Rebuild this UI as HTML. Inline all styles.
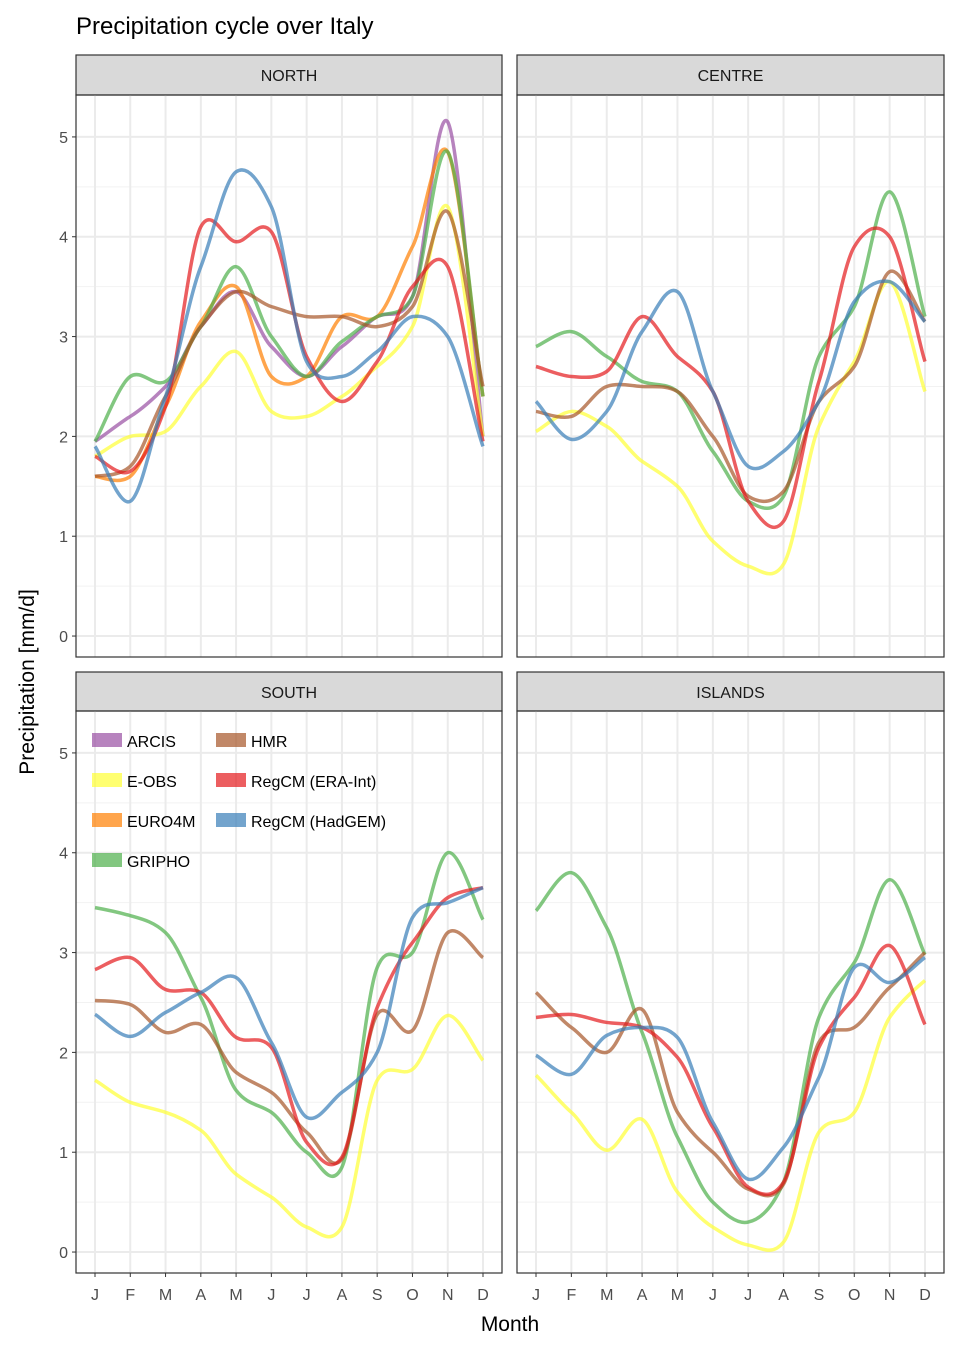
<!DOCTYPE html>
<html><head><meta charset="utf-8"><style>
body{margin:0;background:#fff}
svg text{font-family:"Liberation Sans",Arial,sans-serif}
</style></head><body>
<svg id="chart" width="958" height="1350" xmlns="http://www.w3.org/2000/svg">
<text x="76" y="34" font-size="24" fill="#000">Precipitation cycle over Italy</text>
<text x="510" y="1331" font-size="21" text-anchor="middle">Month</text>
<text transform="translate(34,682) rotate(-90)" font-size="21" text-anchor="middle">Precipitation [mm/d]</text>
</svg>
<script>
const months=["J","F","M","A","M","J","J","A","S","O","N","D"];
const yTicks=[0,1,2,3,4,5];
const seriesNames=["ARCIS","E-OBS","EURO4M","GRIPHO","HMR","RegCM (ERA-Int)","RegCM (HadGEM)"];
const seriesColors=["#984EA3","#FFFF33","#FF7F00","#4DAF4A","#A65628","#E41A1C","#377EB8"];
const regions=["NORTH","CENTRE","SOUTH","ISLANDS"];
const northARCIS=[1.95,2.2,2.5,3.1,3.45,2.9,2.6,2.9,3.2,3.4,5.15,2.0];
const northEOBS=[1.8,2.0,2.05,2.5,2.85,2.25,2.2,2.4,2.7,3.1,4.3,2.0];
const northEURO4M=[1.6,1.6,2.3,3.15,3.5,2.6,2.6,3.2,3.2,3.9,4.85,2.4];
const northGRIPHO=[1.95,2.6,2.55,3.1,3.7,3.0,2.6,2.95,3.2,3.4,4.85,2.4];
const northHMR=[1.6,1.7,2.4,3.1,3.45,3.3,3.2,3.2,3.1,3.3,4.25,2.5];
const northERA=[1.8,1.65,2.3,4.1,3.95,4.05,2.8,2.35,2.75,3.5,3.7,1.95];
const northHad=[1.9,1.35,2.4,3.7,4.65,4.3,2.75,2.6,2.85,3.2,3.0,1.9];
const centreEOBS=[2.05,2.25,2.1,1.75,1.5,0.95,0.7,0.72,2.1,2.75,3.55,2.45];
const centreGRIPHO=[2.9,3.05,2.8,2.55,2.45,1.85,1.35,1.4,2.8,3.3,4.45,3.2];
const centreHMR=[2.25,2.2,2.5,2.5,2.45,2.0,1.4,1.45,2.35,2.7,3.65,3.15];
const centreERA=[2.7,2.6,2.65,3.2,2.8,2.45,1.35,1.15,2.55,3.9,4.0,2.75];
const centreHad=[2.35,1.97,2.25,3.05,3.45,2.45,1.7,1.85,2.35,3.35,3.55,3.15];
const southEOBS=[1.72,1.5,1.4,1.22,0.78,0.55,0.25,0.25,1.72,1.83,2.37,1.92];
const southGRIPHO=[3.45,3.37,3.2,2.55,1.62,1.4,1.0,0.85,2.85,3.0,4.0,3.33];
const southHMR=[2.52,2.48,2.2,2.28,1.8,1.6,1.2,0.93,2.38,2.22,3.2,2.95];
const southERA=[2.83,2.95,2.63,2.6,2.15,2.05,1.1,0.95,2.45,3.1,3.55,3.65];
const southHad=[2.38,2.16,2.4,2.6,2.75,2.1,1.35,1.6,2.0,3.35,3.5,3.65];
const islandsEOBS=[1.77,1.4,1.02,1.33,0.6,0.25,0.07,0.1,1.2,1.4,2.35,2.72];
const islandsGRIPHO=[3.42,3.8,3.25,2.2,1.15,0.5,0.3,0.7,2.35,2.9,3.73,2.98];
const islandsHMR=[2.6,2.25,2.0,2.43,1.4,1.0,0.63,0.68,2.1,2.25,2.65,3.0];
const islandsERA=[2.35,2.38,2.3,2.25,1.95,1.25,0.65,0.7,2.05,2.55,3.07,2.28];
const islandsHad=[1.97,1.78,2.17,2.25,2.15,1.3,0.73,1.05,1.75,2.85,2.7,2.95];

const NS="http://www.w3.org/2000/svg";
const svg=document.getElementById("chart");
function mk(tag,attrs,parent){const e=document.createElementNS(NS,tag);for(const k in attrs)e.setAttribute(k,attrs[k]);(parent||svg).appendChild(e);return e;}

const panels=[
 {x0:76,x1:502,sy0:55,y0:95,y1:657,data:[northARCIS,northEOBS,northEURO4M,northGRIPHO,northHMR,northERA,northHad],idx:[0,1,2,3,4,5,6],yl:true,xl:false},
 {x0:517,x1:944,sy0:55,y0:95,y1:657,data:[centreEOBS,centreGRIPHO,centreHMR,centreERA,centreHad],idx:[1,3,4,5,6],yl:false,xl:false},
 {x0:76,x1:502,sy0:672,y0:711,y1:1273,data:[southEOBS,southGRIPHO,southHMR,southERA,southHad],idx:[1,3,4,5,6],yl:true,xl:true},
 {x0:517,x1:944,sy0:672,y0:711,y1:1273,data:[islandsEOBS,islandsGRIPHO,islandsHMR,islandsERA,islandsHad],idx:[1,3,4,5,6],yl:false,xl:true}
];
const yMin=-0.21,yMax=5.42;
const T=7.5;
function smooth(pts){let d="M"+pts[0][0]+","+pts[0][1];for(let i=0;i<pts.length-1;i++){const p0=pts[Math.max(i-1,0)],p1=pts[i],p2=pts[i+1],p3=pts[Math.min(i+2,pts.length-1)];d+=" C"+(p1[0]+(p2[0]-p0[0])/6)+","+(p1[1]+(p2[1]-p0[1])/T)+" "+(p2[0]-(p3[0]-p1[0])/6)+","+(p2[1]-(p3[1]-p1[1])/T)+" "+p2[0]+","+p2[1];}return d;}

panels.forEach((p,pi)=>{
 const sx=i=>p.x0+19+i*(p.x1-p.x0-38)/11;
 const sy=v=>p.y1-(v-yMin)/(yMax-yMin)*(p.y1-p.y0);
 const g=mk("g",{});
 
 
 const strip=mk("rect",{x:p.x0,y:p.sy0,width:p.x1-p.x0,height:p.y0-p.sy0,fill:"#d9d9d9",stroke:"#333","stroke-width":1.2},g);
 
 
 const st=mk("text",{x:(p.x0+p.x1)/2,y:p.sy0+26,"font-size":16,"text-anchor":"middle",fill:"#1a1a1a"},g);
 st.textContent=regions[pi];
 
 
 for(let v=0.5;v<5.5;v+=1){mk("line",{x1:p.x0,x2:p.x1,y1:sy(v),y2:sy(v),stroke:"#f2f2f2","stroke-width":1},g);}
 yTicks.forEach(v=>{mk("line",{x1:p.x0,x2:p.x1,y1:sy(v),y2:sy(v),stroke:"#ebebeb","stroke-width":2},g);
  if(p.yl){mk("line",{x1:p.x0-4,x2:p.x0,y1:sy(v),y2:sy(v),stroke:"#333"},g);const t=mk("text",{x:p.x0-8,y:sy(v)+6,"font-size":16,"text-anchor":"end",fill:"#4d4d4d"},g);t.textContent=v;
   
   }});
 months.forEach((m,i)=>{mk("line",{x1:sx(i),x2:sx(i),y1:p.y0,y2:p.y1,stroke:"#ebebeb","stroke-width":2},g);
  if(p.xl){mk("line",{x1:sx(i),x2:sx(i),y1:p.y1,y2:p.y1+4,stroke:"#333"},g);const t=mk("text",{x:sx(i),y:p.y1+27,"font-size":16,"text-anchor":"middle",fill:"#4d4d4d"},g);t.textContent=m;
   
   }});
 p.data.forEach((arr,k)=>{const si=p.idx[k];
  const path=mk("path",{d:smooth(arr.map((v,i)=>[sx(i),sy(v)])),fill:"none",stroke:seriesColors[si],"stroke-width":3.5,"stroke-opacity":0.7,"stroke-linejoin":"round"},g);
  
  });
 mk("rect",{x:p.x0,y:p.y0,width:p.x1-p.x0,height:p.y1-p.y0,fill:"none",stroke:"#333","stroke-width":1.2},g);
});

const lg=mk("g",{});


const legendPos=[[0,0],[0,1],[0,2],[0,3],[1,0],[1,1],[1,2]];
seriesNames.forEach((n,i)=>{const cx=92+legendPos[i][0]*124,cy=733+legendPos[i][1]*40;
 const e=mk("g",{},lg);
 
 
 mk("rect",{x:cx,y:cy,width:30,height:14,fill:seriesColors[i],"fill-opacity":0.7},e);
 const t=mk("text",{x:cx+35,y:cy+14,"font-size":16,fill:"#000"},e);t.textContent=n;});
</script>
</body></html>
